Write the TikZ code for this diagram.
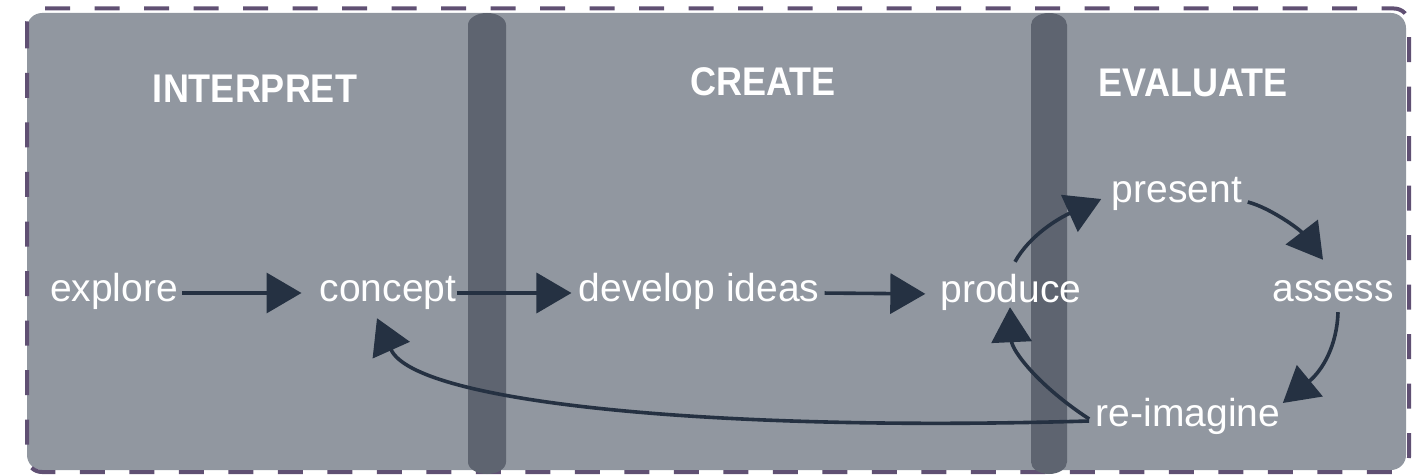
\documentclass[tikz,border=0pt]{standalone}
\usepackage{fontspec}
\setmainfont{Liberation Sans}
\newfontfamily\headfont[FakeStretch=0.9]{Liberation Sans}
\usetikzlibrary{arrows.meta}
\definecolor{panel}{RGB}{145,151,160}
\definecolor{divider}{RGB}{94,100,112}
\definecolor{ink}{RGB}{37,49,66}
\definecolor{frame}{RGB}{96,80,115}
\tikzset{
  word/.style={font=\fontsize{39}{46}\selectfont, text=white, inner sep=0pt,
    anchor=base, text height=24pt, text depth=8pt},
  heading/.style={font=\headfont\bfseries\fontsize{40}{46}\selectfont, text=white,
    inner sep=0pt, anchor=base},
  arr/.style={draw=ink, line width=3.6pt, -{Triangle[length=35pt,width=40pt]}},
}
\newcommand{\dividerbar}[2]{%
  \fill[divider] (#1-#2,25) -- (#1-#2,462)
    arc[start angle=180,end angle=0,x radius=#2,y radius=12]
    -- (#1+#2,25)
    arc[start angle=0,end angle=-180,x radius=#2,y radius=12] -- cycle;}
\begin{document}
\begin{tikzpicture}[x=1pt,y=-1pt]
\useasboundingbox (0,0) rectangle (1428,476);
% panel and its dashed frame
\fill[panel, rounded corners=15pt] (27,13) rectangle (1406,470);
\draw[frame, line width=4pt, dash pattern=on 25pt off 24.5pt, rounded corners=15pt]
  (27,8.5) rectangle (1409,472);
% stage dividers
\dividerbar{487}{19}
\dividerbar{1049}{18}
% stage headings
\node[heading] (hInterp) at (255,103) {INTERPRET};
\node[heading] (hCreate) at (763,96) {CREATE};
\node[heading] (hEval) at (1193,97) {EVALUATE};
% steps
\node[word] (explore) at (114,301) {explore};
\node[word] (concept) at (388,301) {concept};
\node[word] (develop) at (699,301) {develop ideas};
\node[word] (produce) at (1011,302) {produce};
\node[word] (assess) at (1333,301) {assess};
\node[word] (present) at (1177,203) {present};
\node[word] (reimagine) at (1188,426) {re-imagine};
% main flow
\draw[arr, shorten <=4pt, shorten >=18pt] (explore.east) -- (concept.west);
\draw[arr, shorten >=7pt] (concept.east) -- (develop.west);
\draw[arr, shorten <=5pt, shorten >=15pt] (develop.east) -- (produce.west);
% evaluation loop
\draw[arr] ([shift={(4,-16)}]produce.north) .. controls +(15,-27) and +(-42,19) .. ([shift={(-10.5,4)}]present.west);
\draw[arr] ([shift={(5.5,7)}]present.east) .. controls +(23,6) and +(-23,-30) .. ([shift={(-10,-17)}]assess.north);
\draw[arr] ([shift={(5,3)}]assess.south) .. controls +(-1,33) and +(40,-33) .. ([shift={(2.5,-15)}]reimagine.east);
\draw[arr] ([shift={(-6.5,1)}]reimagine.west) .. controls +(-52,-34) and +(2,43) .. ([shift={(-1,-3)}]produce.south);
\draw[arr] ([shift={(-6.5,3)}]reimagine.west) .. controls +(-372,11) and +(38,85) .. ([shift={(-11,9)}]concept.south);
\end{tikzpicture}
\end{document}
